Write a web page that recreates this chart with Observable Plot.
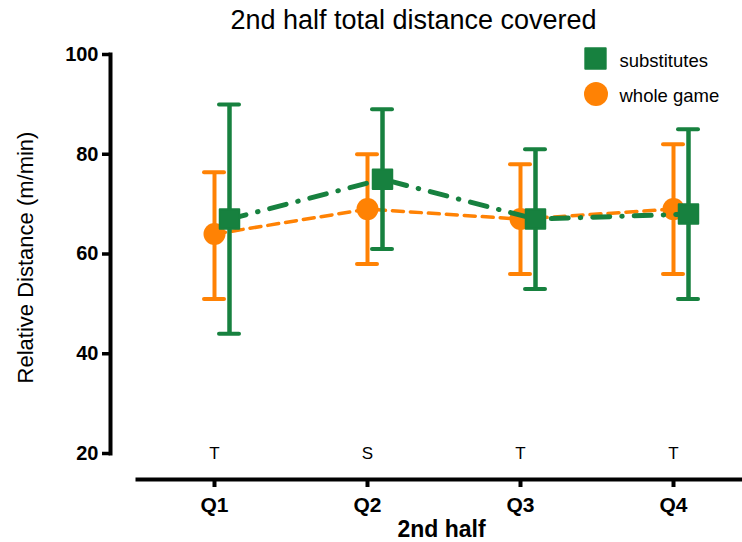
<!DOCTYPE html>
<html><head><meta charset="utf-8">
<script src="https://cdn.jsdelivr.net/npm/d3@7"></script>
<script src="https://cdn.jsdelivr.net/npm/@observablehq/plot@0.6"></script>
<style>body{margin:0;background:#fff} svg{display:block}</style>
</head><body><div id="chart"></div>
<script>
const quarters = ["Q1", "Q2", "Q3", "Q4"];
const subMean = [67, 75, 67, 68];
const subLow = [44, 61, 53, 51];
const subHigh = [90, 89, 81, 85];
const wholeMean = [64, 69, 67, 69];
const wholeLow = [51, 58, 56, 56];
const wholeHigh = [76.4, 80, 78, 82];
const sigLabels = ["T", "S", "T", "T"];
const yTicks = [20, 40, 60, 80, 100];
const seriesNames = ["substitutes", "whole game"];
const titleText = "2nd half total distance covered";
const xLabel = "2nd half";
const yLabel = "Relative Distance (m/min)";

const green = "#17813f", orange = "#ff8204";
const sub = quarters.map((q, i) => ({q, mean: subMean[i], lo: subLow[i], hi: subHigh[i]}));
const whole = quarters.map((q, i) => ({q, mean: wholeMean[i], lo: wholeLow[i], hi: wholeHigh[i]}));
const ann = quarters.map((q, i) => ({q, label: sigLabels[i], y: yTicks[0]}));

const font = "'Liberation Sans', Arial, Helvetica, sans-serif";
const OFF = 15;

function errorMarks(data, color, dx, w) {
  const capOpts = {x1: "q", x2: "q", stroke: color, strokeWidth: 4, dx, insetLeft: -10, insetRight: -10, strokeLinecap: "round"};
  return [
    Plot.ruleX(data, {x: "q", y1: "lo", y2: "hi", stroke: color, strokeWidth: w, dx}),
    Plot.ruleY(data, {...capOpts, y: "lo"}),
    Plot.ruleY(data, {...capOpts, y: "hi"})
  ];
}

const chart = Plot.plot({
  width: 742, height: 542,
  marginTop: 54, marginBottom: 63, marginLeft: 110, marginRight: 0,
  style: {fontFamily: font, background: "white", color: "black", overflow: "visible"},
  x: {type: "point", domain: quarters, padding: 0, insetLeft: 103, insetRight: 68, axis: null},
  y: {domain: [20, 100], insetBottom: 26, axis: null},
  marks: [
    Plot.frame({anchor: "left", insetBottom: 26, stroke: "black", strokeWidth: 4}),
    Plot.frame({anchor: "bottom", insetLeft: 27, stroke: "black", strokeWidth: 4}),
    Plot.axisY({ticks: yTicks, tickSize: 8, tickPadding: 4, strokeWidth: 3.5, stroke: "black", fill: "black", fontSize: 20, fontWeight: "bold", label: null}),
    Plot.axisX({tickSize: 8, tickPadding: 10, strokeWidth: 4, stroke: "black", fill: "black", fontSize: 21, fontWeight: "bold", label: null}),
    Plot.text([yLabel], {frameAnchor: "left", textAnchor: "middle", lineAnchor: "middle", rotate: -90, dx: -85, dy: -9.5, fontSize: 22, fill: "black"}),
    Plot.text([xLabel], {frameAnchor: "bottom", lineAnchor: "middle", dx: 15, dy: 50.6, fontSize: 23, fontWeight: "bold", fill: "black"}),
    Plot.text([titleText], {frameAnchor: "top", lineAnchor: "middle", dx: -13, dy: -34.6, fontSize: 27, fill: "black"}),
    Plot.text(ann, {x: "q", y: "y", text: "label", lineAnchor: "middle", fontSize: 17, fill: "black"}),
    // whole game (orange)
    ...errorMarks(whole, orange, 0, 4),
    Plot.line(whole, {x: "q", y: "mean", stroke: orange, strokeWidth: 3.5, strokeDasharray: "11,7"}),
    Plot.dot(whole, {x: "q", y: "mean", r: 11, fill: orange}),
    // substitutes (green)
    ...errorMarks(sub, green, OFF, 4.5),
    Plot.line(sub, {x: "q", y: "mean", dx: OFF, stroke: green, strokeWidth: 5, strokeDasharray: "17,12,0.5,12", strokeLinecap: "round"}),
    Plot.dot(sub, {x: "q", y: "mean", dx: OFF, symbol: "square", r: 11, fill: green, stroke: green, strokeWidth: 2, strokeLinejoin: "round"}),
    // legend
    Plot.dot([seriesNames[0]], {frameAnchor: "top-right", dx: -147, dy: 4, symbol: "square", r: 11.5, fill: green, stroke: green, strokeWidth: 2, strokeLinejoin: "round"}),
    Plot.text([seriesNames[0]], {frameAnchor: "top-right", lineAnchor: "middle", dx: -123, dy: 7, textAnchor: "start", fontSize: 18.5, fill: "black"}),
    Plot.dot([seriesNames[1]], {frameAnchor: "top-right", dx: -146.5, dy: 39.5, r: 12, fill: orange}),
    Plot.text([seriesNames[1]], {frameAnchor: "top-right", lineAnchor: "middle", dx: -123, dy: 42, textAnchor: "start", fontSize: 18.5, fill: "black"})
  ]
});
document.getElementById("chart").appendChild(chart);
</script>
</body></html>
